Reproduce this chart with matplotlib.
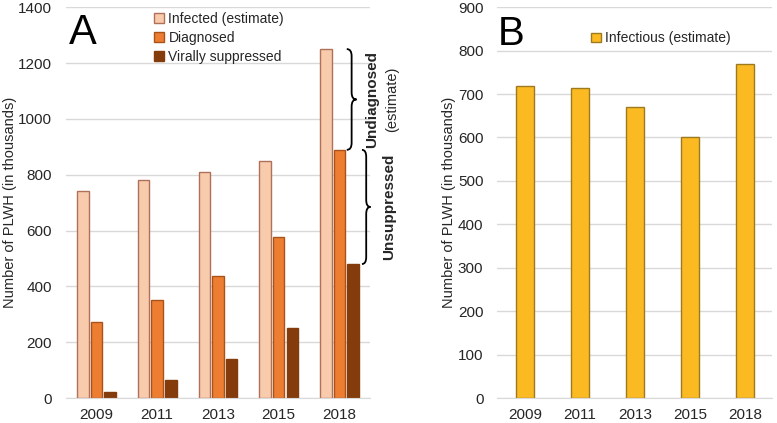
import numpy as np
import matplotlib
matplotlib.use("Agg")
import matplotlib.pyplot as plt
from matplotlib.path import Path
from matplotlib.patches import PathPatch

plt.rcParams["font.family"] = ["Liberation Sans", "DejaVu Sans"]

# Data
years = ["2009", "2011", "2013", "2015", "2018"]
infected = [740, 780, 810, 850, 1250]
diagnosed = [272, 352, 437, 576, 889]
suppressed = [22, 64, 139, 250, 480]
infectious = [718, 715, 670, 600, 770]

TXT = "#262626"
GRID = "#D9D9D9"


def brace(ax, x, y_top, y_bot, w, r):
    # curly bracket opening to the left, tip pointing right
    ym = (y_top + y_bot) / 2
    verts = [
        (x, y_top), (x + w, y_top), (x + w, y_top - r),
        (x + w, ym + r),
        (x + w, ym), (x + 2 * w, ym),
        (x + w, ym), (x + w, ym - r),
        (x + w, y_bot + r),
        (x + w, y_bot), (x, y_bot),
    ]
    codes = [Path.MOVETO, Path.CURVE3, Path.CURVE3, Path.LINETO,
             Path.CURVE3, Path.CURVE3, Path.CURVE3, Path.CURVE3,
             Path.LINETO, Path.CURVE3, Path.CURVE3]
    ax.add_patch(PathPatch(Path(verts, codes), fill=False, lw=1.3,
                           ec="black", clip_on=False, zorder=5))


def style(ax, ymax, step, label_x):
    ax.set_ylim(0, ymax)
    ax.set_yticks(np.arange(0, ymax + 1, step))
    ax.set_xlim(-0.5, len(years) - 0.5)
    ax.set_xticks(range(len(years)))
    ax.set_xticklabels(years)
    ax.yaxis.grid(True, color=GRID, lw=1)
    ax.set_axisbelow(True)
    for s in ["top", "right", "left"]:
        ax.spines[s].set_visible(False)
    ax.spines["bottom"].set_color(GRID)
    ax.tick_params(length=0, labelsize=11, colors=TXT)
    ax.tick_params(axis="y", pad=10)
    ax.tick_params(axis="x", pad=7)
    ax.set_ylabel("Number of PLWH (in thousands)", fontsize=10.5, color=TXT)
    ax.yaxis.set_label_coords(label_x, 0.5)


fig = plt.figure(figsize=(7.77, 4.23), dpi=100)

# Panel A
axA = fig.add_axes([0.085, 0.059, 0.391, 0.924])
x = np.arange(len(years))
bw = 0.19
off = 0.225
axA.bar(x - off, infected, bw, color="#F8CBAD", edgecolor="#B0705A", lw=1, label="Infected (estimate)")
axA.bar(x, diagnosed, bw, color="#ED7D31", edgecolor="#A9531B", lw=1, label="Diagnosed")
axA.bar(x + off, suppressed, bw, color="#843C0C", edgecolor="#843C0C", lw=1, label="Virally suppressed")
style(axA, 1400, 200, -0.162)
axA.text(0.01, 0.985, "A", transform=axA.transAxes, fontsize=30, va="top", ha="left", color="black")
axA.legend(loc="upper left", bbox_to_anchor=(0.25, 1.02), frameon=False, fontsize=10,
           handlelength=0.7, handleheight=0.7, handletextpad=0.3, labelspacing=0.35,
           labelcolor=TXT)

last = len(years) - 1
brace(axA, last + 0.12, infected[last], diagnosed[last], 0.08, 25)
axA.text(last + 0.53, (infected[last] + diagnosed[last]) / 2, "Undiagnosed", rotation=90,
         fontsize=11, fontweight="bold", ha="center", va="center", color=TXT, clip_on=False)
axA.text(last + 0.86, (infected[last] + diagnosed[last]) / 2, "(estimate)", rotation=90,
         fontsize=10.5, ha="center", va="center", color=TXT, clip_on=False)
brace(axA, last + 0.37, diagnosed[last], suppressed[last], 0.07, 25)
axA.text(last + 0.81, (diagnosed[last] + suppressed[last]) / 2, "Unsuppressed", rotation=90,
         fontsize=11, fontweight="bold", ha="center", va="center", color=TXT, clip_on=False)

# Panel B
axB = fig.add_axes([0.640, 0.059, 0.354, 0.924])
axB.bar(x, infectious, 0.33, color="#FBBA22", edgecolor="#9E7A1E", lw=1, label="Infectious (estimate)")
style(axB, 900, 100, -0.15)
axB.text(0.0, 0.98, "B", transform=axB.transAxes, fontsize=29, va="top", ha="left", color="black")
axB.legend(loc="upper left", bbox_to_anchor=(0.295, 0.97), frameon=False, fontsize=10,
           handlelength=0.7, handleheight=0.7, handletextpad=0.3, labelcolor=TXT)

fig.savefig("out.png", dpi=100)
